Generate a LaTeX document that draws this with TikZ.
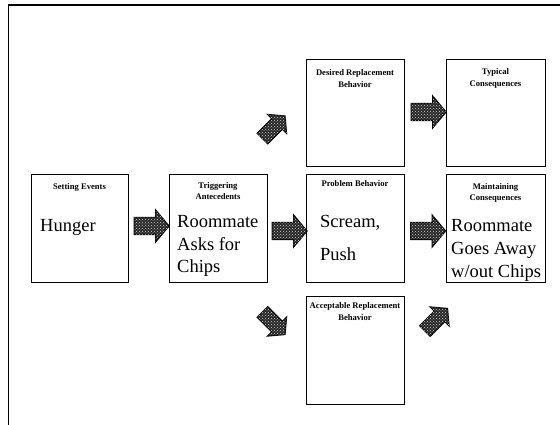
\documentclass[tikz,border=0pt]{standalone}
\usepackage{fontspec}
\setmainfont{Liberation Serif}
\usetikzlibrary{shapes.arrows,patterns}

\tikzset{
  x=1pt, y=-1pt,
  box/.style={draw, line width=1.4pt, fill=white, inner sep=0pt},
  small/.style={font=\bfseries\fontsize{8.6}{11.5}\selectfont, align=center, inner sep=0pt},
  big/.style={font=\fontsize{18.5}{22}\selectfont, anchor=base west, inner sep=0pt},
  blockarrow/.style={single arrow, draw, line width=1.1pt, fill=black!85,
    postaction={pattern=crosshatch dots, pattern color=white!85!black},
    inner xsep=0pt, single arrow tip angle=100, text height=0pt, text depth=0pt},
  harrow/.style={blockarrow, minimum height=35pt, minimum width=31pt,
    inner ysep=8pt, single arrow head extend=7.5pt},
  darrow/.style={blockarrow, minimum height=32pt, minimum width=26pt,
    inner ysep=7pt, single arrow head extend=6pt},
}

\newcommand{\boxat}[5]{% name, x0, y0, x1, y1
  \node[box, minimum width=#4pt-#2pt, minimum height=#5pt-#3pt,
        anchor=north west] (#1) at (#2,#3) {};}

\begin{document}
\begin{tikzpicture}
\useasboundingbox (0,0) rectangle (560,425);

% page frame
\coordinate (fTL) at (8.5,5);
\coordinate (fTR) at (560,5);
\coordinate (fBL) at (8.5,425);
\draw[line width=1.3pt] (fBL) -- (fTL) -- (fTR);

% boxes
\boxat{set}{31}{174}{128}{282}
\boxat{trig}{169}{174}{267}{282}
\boxat{prob}{306}{174}{404}{282}
\boxat{maint}{446}{174}{545}{282}
\boxat{des}{306}{59}{404}{166}
\boxat{typ}{446}{59}{545}{166}
\boxat{acc}{306}{296}{404}{404}

% headings
\node[small] (setH) at (79.5,187) {Setting Events};
\node[small] (trigH) at (218,191) {Triggering\\Antecedents};
\node[small] (probH) at (355,183.5) {Problem Behavior};
\node[small] (maintH) at (495.5,193) {Maintaining\\Consequences};
\node[small] (desH) at (355,78.5) {Desired Replacement\\Behavior};
\node[small] (typH) at (495.5,78.5) {Typical\\Consequences};
\node[small] (accH) at (355,311.5) {Acceptable Replacement\\Behavior};

% contents
\node[big] (hunger) at (40,232) {Hunger};
\node[big] (trig1) at (177,228) {Roommate};
\node[big] (trig2) at (177,250) {Asks for};
\node[big] (trig3) at (177,272) {Chips};
\node[big] (prob1) at (320,228) {Scream,};
\node[big] (prob2) at (320,260) {Push};
\node[big] (maint1) at (451,232) {Roommate};
\node[big] (maint2) at (451,254.5) {Goes Away};
\node[big] (maint3) at (451,277) {w/out Chips};

% block arrows
\node[harrow] (a1) at (148,226) {};
\node[harrow] (a2) at (286,231) {};
\node[harrow] (a3) at (424.5,231) {};
\node[harrow] (a4) at (425,112) {};
\node[darrow, rotate=45] (a5) at (271.5,129.5) {};
\node[darrow, rotate=-45] (a6) at (271.5,321) {};
\node[darrow, rotate=45] (a7) at (434,322) {};
\end{tikzpicture}
\end{document}
